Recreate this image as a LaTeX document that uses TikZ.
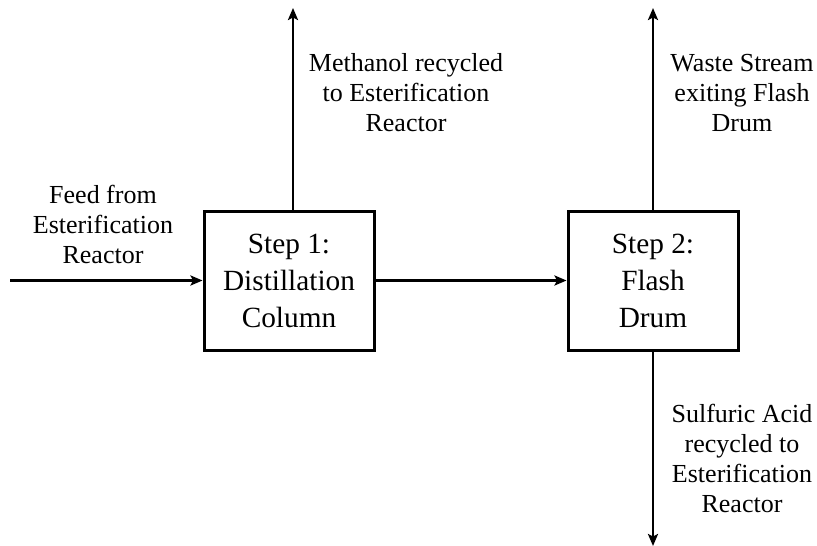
\documentclass[tikz,border=0pt]{standalone}
\usepackage{fontspec}
\setmainfont{Liberation Serif}
\usetikzlibrary{arrows.meta,calc}
\begin{document}
\begin{tikzpicture}[x=1pt,y=-1pt,
  procbox/.style={draw,line width=3pt,minimum width=170pt,minimum height=139pt,align=center,inner sep=0pt,
    font=\fontsize{29.3}{37}\selectfont},
  lbl/.style={align=center,inner sep=0pt,font=\fontsize{26}{30}\selectfont},
  flow/.style={line width=2.8pt,-{Stealth[length=12pt,width=10pt,inset=2.5pt]}}]
\useasboundingbox (0,0) rectangle (817,546);
\node[procbox] (b1) at (289,280.5) {Step 1:\\Distillation\\Column};
\node[procbox] (b2) at (653,280.5) {Step 2:\\Flash\\Drum};
\coordinate (in) at (10,280.5);
\coordinate (m) at (293,8);
\coordinate (w) at (653,8);
\coordinate (s) at (653,546);
\draw[flow] (in) -- (b1.west);
\draw[flow] (b1.east) -- (b2.west);
\draw[flow] (b1.north -| m) -- (m);
\draw[flow] (b2.north) -- (w);
\draw[flow] (b2.south) -- (s);
\node[lbl] (lf) at (103,224) {Feed from\\Esterification\\Reactor};
\node[lbl] (lm) at (406,93) {Methanol recycled\\to Esterification\\Reactor};
\node[lbl] (lw) at (742,93) {Waste Stream\\exiting Flash\\Drum};
\node[lbl] (ls) at (742,458) {Sulfuric Acid\\recycled to\\Esterification\\Reactor};
\end{tikzpicture}
\end{document}
